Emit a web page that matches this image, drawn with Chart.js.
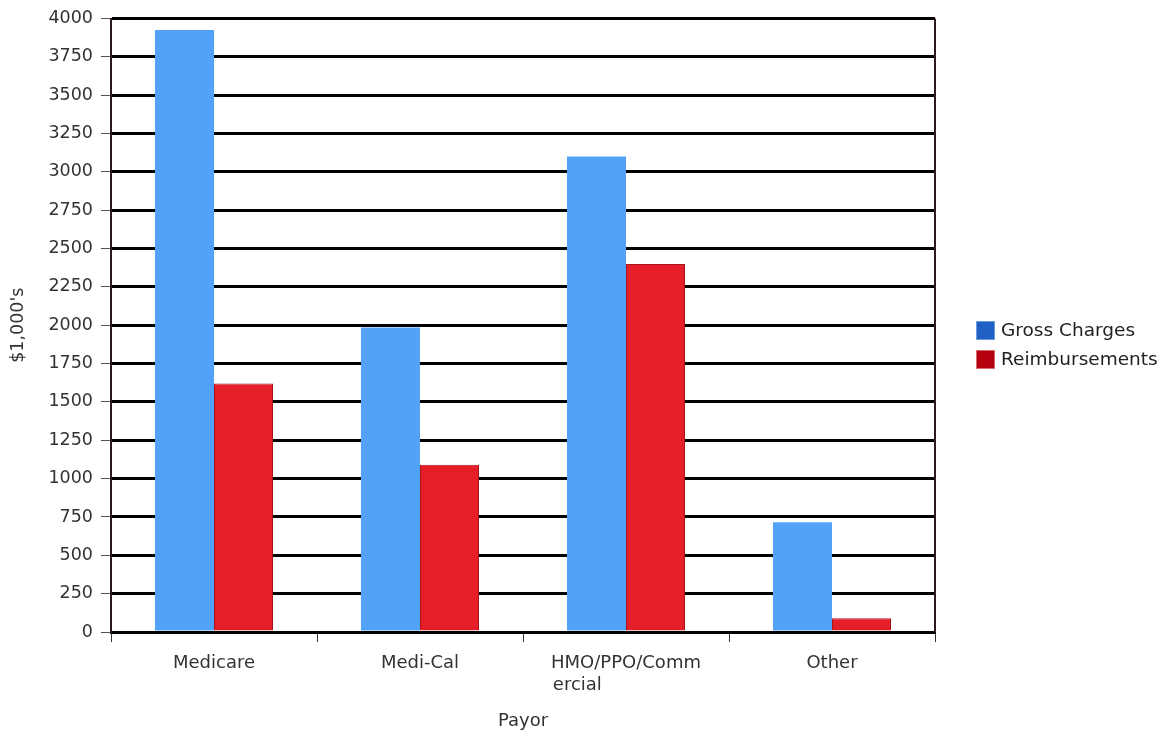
<!DOCTYPE html>
<html>
<head>
<meta charset="utf-8">
<script src="https://cdn.jsdelivr.net/npm/chart.js@4/dist/chart.umd.min.js"></script>
<style>
html,body{margin:0;padding:0;background:#fff;}
#wrap{width:1164px;height:738px;position:relative;}
</style>
</head>
<body>
<div id="wrap"><canvas id="c" width="1164" height="738"></canvas></div>
<script>
const categories = ["Medicare", "Medi-Cal", ["HMO/PPO/Comm", "ercial"], "Other"];
const grossCharges = [3925, 1985, 3100, 715];
const reimbursements = [1620, 1090, 2400, 90];
const seriesNames = ["Gross Charges", "Reimbursements"];
const yTicks = [0,250,500,750,1000,1250,1500,1750,2000,2250,2500,2750,3000,3250,3500,3750,4000];

const FONT = "'DejaVu Sans', Verdana, sans-serif";
const legendSwatch = ["#2060c4", "#b4000e"];

const measureCtx = document.createElement('canvas').getContext('2d');
function padLines(label, size) {
  if (!Array.isArray(label)) return label;
  measureCtx.font = size + "px " + FONT;
  const w = Math.max(...label.map(l => measureCtx.measureText(l).width));
  return label.map(l => {
    let s = l;
    while (measureCtx.measureText(s + ' ').width <= w + 1) s += ' ';
    return s;
  });
}

const frame = {
  id: 'frame',
  afterDatasetsDraw(chart) {
    const {ctx, chartArea: a} = chart;
    ctx.save();
    ctx.strokeStyle = '#2a1a1a';
    ctx.lineWidth = 2;
    ctx.beginPath();
    ctx.moveTo(a.right, a.top);
    ctx.lineTo(a.right, a.bottom);
    ctx.stroke();
    ctx.restore();
  },
  afterDraw(chart) {
    const ctx = chart.ctx;
    ctx.save();
    ctx.font = "18.5px " + FONT;
    ctx.textBaseline = 'middle';
    seriesNames.forEach((n, i) => {
      const y = 321 + i * 29;
      ctx.fillStyle = legendSwatch[i];
      ctx.fillRect(976, y, 19, 19);
      ctx.strokeStyle = i === 0 ? '#6b9de0' : '#d46a70';
      ctx.lineWidth = 1;
      ctx.strokeRect(976.5, y + 0.5, 18, 18);
      ctx.fillStyle = '#222';
      ctx.fillText(n, 1001, y + 10);
    });
    ctx.restore();
  }
};

new Chart(document.getElementById('c'), {
  type: 'bar',
  data: {
    labels: categories,
    datasets: [
      {label: seriesNames[0], data: grossCharges, backgroundColor: '#52a2f7', borderWidth: 0,
       categoryPercentage: 0.573, barPercentage: 1.0},
      {label: seriesNames[1], data: reimbursements, backgroundColor: '#e61e28', borderColor: '#a8141c', borderWidth: 1,
       categoryPercentage: 0.573, barPercentage: 1.0}
    ]
  },
  options: {
    responsive: false,
    animation: false,
    layout: {padding: {top: 6, right: 229, left: 0, bottom: 0}},
    plugins: {legend: {display: false}, tooltip: {enabled: false}},
    scales: {
      x: {
        grid: {drawOnChartArea: false, drawTicks: true, tickLength: 10, color: '#333', lineWidth: 1, offset: true},
        border: {display: true, color: '#000', width: 3},
        ticks: {font: {family: FONT, size: 18, lineHeight: 1.2}, color: '#333', padding: 11, maxRotation: 0, autoSkip: false,
                callback(v) { return padLines(this.getLabelForValue(v), 18); }},
        title: {display: true, text: 'Payor', font: {family: FONT, size: 18}, color: '#333', padding: {top: 4, bottom: 6}},
        afterFit(s) { s.height = 106; }
      },
      y: {
        min: 0, max: 4000,
        afterBuildTicks(s) { s.ticks = yTicks.map(v => ({value: v})); },
        grid: {color: '#000', lineWidth: 3, drawTicks: true, tickLength: 10, tickColor: '#555', tickWidth: 1},
        border: {display: true, color: '#2a1a1a', width: 2},
        ticks: {font: {family: FONT, size: 17.5}, color: '#333', padding: 8, callback: v => String(v)},
        title: {display: true, text: "$1,000's", font: {family: FONT, size: 17.5}, color: '#333', padding: {top: 8, bottom: 0}},
        afterFit(s) { s.width = 111; }
      }
    }
  },
  plugins: [frame]
});
</script>
</body>
</html>
